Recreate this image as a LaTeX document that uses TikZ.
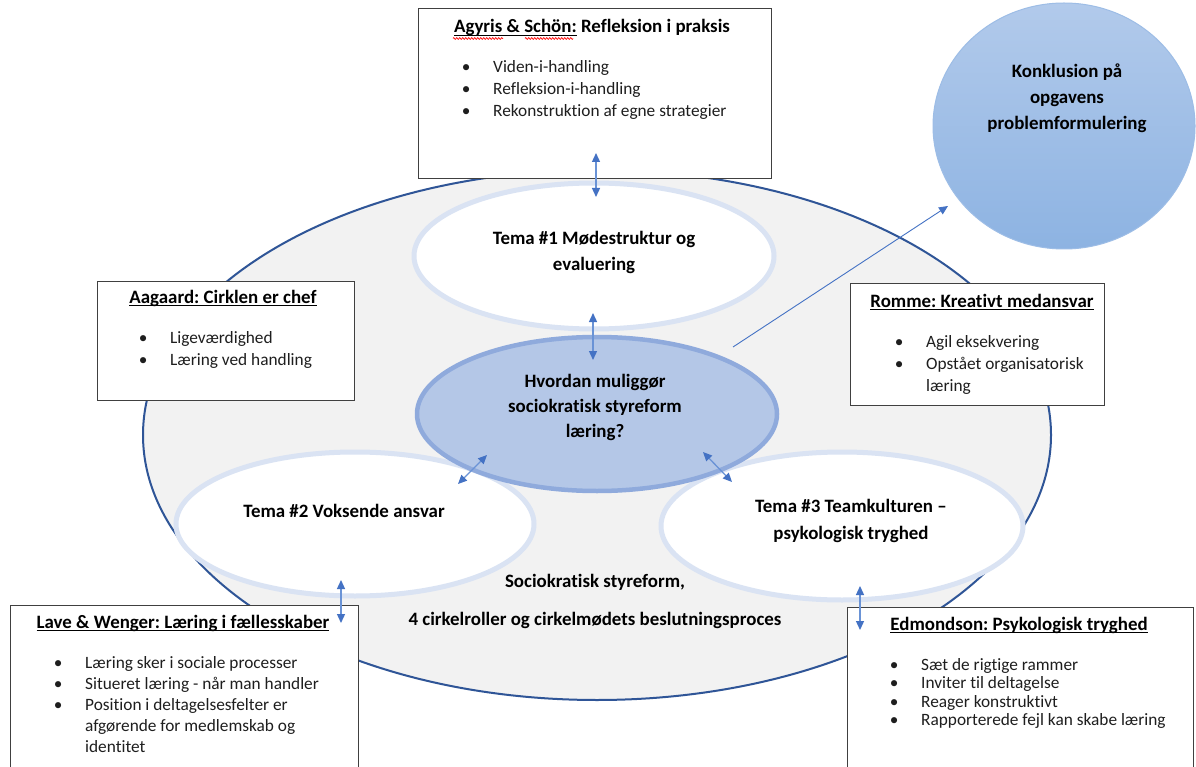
\documentclass[tikz,border=0pt]{standalone}
\usepackage{fontspec}
\setmainfont{Carlito}[Ligatures=NoCommon]
\usetikzlibrary{arrows.meta,decorations.pathmorphing,shapes.geometric}
\frenchspacing
\definecolor{bigb}{HTML}{2F5597}
\definecolor{biggray}{HTML}{F2F2F2}
\definecolor{temab}{HTML}{DAE3F3}
\definecolor{cfill}{HTML}{B4C7E7}
\definecolor{cborder}{HTML}{8FAADC}
\definecolor{arr}{HTML}{4472C4}
\definecolor{arrl}{HTML}{6A93D6}
\definecolor{boxc}{HTML}{404040}
\definecolor{ktop}{HTML}{B2CAEB}
\definecolor{kbot}{HTML}{8DB3E2}
\definecolor{kbord}{HTML}{9DBDE6}
\definecolor{txtc}{HTML}{1E1E1E}
\newcommand\bodyf{\fontsize{17.3}{22}\selectfont}
\newcommand\bodyt{\fontsize{17.3}{18.6}\selectfont}
\newcommand\boldf{\fontsize{18.9}{25}\selectfont\bfseries}
\newcommand\bul{\makebox[0pt]{\textbullet}\hspace*{27pt}}
\newcommand\ind{\hspace*{27pt}}
\newcommand\ulx[1]{\setbox0\hbox{#1}\rlap{\rule[-3.2pt]{\wd0}{1.1pt}}\box0\relax}
\tikzset{
  boxn/.style={draw=boxc, line width=1.2pt, fill=white, rectangle, inner sep=0pt, anchor=north west},
  temae/.style={ellipse, draw=temab, line width=5pt, fill=white, inner sep=0pt},
  lst/.style={inner sep=0pt, anchor=base west, text=txtc, font=\bodyf},
  ttl/.style={inner sep=0pt, anchor=base, text=black, font=\boldf},
  ctr/.style={inner sep=0pt, anchor=base, text=black, font=\boldf},
  dbl/.style={draw=arrl, line width=1.3pt, {Triangle[length=9pt,width=8pt,color=arr]}-{Triangle[length=9pt,width=8pt,color=arr]}},
  sgl/.style={draw=arr, line width=0.9pt, -{Triangle[length=9pt,width=8pt]}},
  squig/.style={draw=red, line width=0.7pt, decorate, decoration={zigzag, segment length=3pt, amplitude=0.9pt}}
}
\begin{document}
\begin{tikzpicture}[x=1pt,y=-1pt]
\useasboundingbox[fill=white] (0,0) rectangle (1196,767);
% big ellipse
\node[ellipse, draw=bigb, fill=biggray, line width=2pt, inner sep=0pt, minimum width=908pt, minimum height=530pt] (main) at (597,435) {};
% theme ellipses
\node[temae, minimum width=360pt, minimum height=146pt] (t1) at (594,256) {};
\node[temae, minimum width=358pt, minimum height=144pt] (t2) at (355,524) {};
\node[temae, minimum width=362pt, minimum height=148pt] (t3) at (842,526) {};
% centre ellipse
\node[ellipse, draw=cborder, fill=cfill, line width=4.5pt, inner sep=0pt, minimum width=360pt, minimum height=154pt] (ctr) at (597,414) {};
% conclusion circle
\node[ellipse, draw=kbord, line width=1pt, top color=ktop, bottom color=kbot, inner sep=0pt, minimum width=262pt, minimum height=246pt] (konk) at (1064,126) {};
% boxes
\node[boxn, minimum width=353pt, minimum height=170pt] (agy) at (418,8) {};
\node[boxn, minimum width=257pt, minimum height=119pt] (aag) at (97,281) {};
\node[boxn, minimum width=254pt, minimum height=122pt] (rom) at (850,283) {};
\node[boxn, minimum width=348pt, minimum height=180pt] (lav) at (10,605) {};
\node[boxn, minimum width=346pt, minimum height=180pt] (edm) at (847,607) {};
% connector end points
\coordinate (a1s) at (596,153); \coordinate (a1e) at (596,197);
\coordinate (a2s) at (593,313); \coordinate (a2e) at (593,360);
\coordinate (a3s) at (487,455); \coordinate (a3e) at (458,484);
\coordinate (a4s) at (703,452); \coordinate (a4e) at (732,482);
\coordinate (a5s) at (341,580); \coordinate (a5e) at (341,623);
\coordinate (a6s) at (860,586); \coordinate (a6e) at (860,630);
\coordinate (a7s) at (733,347); \coordinate (a7e) at (948,206);
\draw[dbl] (a1s) -- (a1e);
\draw[dbl] (a2s) -- (a2e);
\draw[dbl] (a3s) -- (a3e);
\draw[dbl] (a4s) -- (a4e);
\draw[dbl] (a5s) -- (a5e);
\draw[dbl] (a6s) -- (a6e);
\draw[sgl] (a7s) -- (a7e);
% ellipse texts
\node[ctr, font=\fontsize{18.9}{25}\selectfont\bfseries] (t1txt) at (594,245) {\begin{tabular}[t]{@{}c@{}}Tema \#1 Mødestruktur og\\evaluering\end{tabular}};
\node[ctr] (t2txt) at (344,517) {Tema \#2 Voksende ansvar};
\node[ctr, font=\fontsize{18.9}{27}\selectfont\bfseries] (t3txt) at (851,512) {\begin{tabular}[t]{@{}c@{}}Tema \#3 Teamkulturen –\\psykologisk tryghed\end{tabular}};
\node[ctr] (ctxt) at (595,387) {\begin{tabular}[t]{@{}c@{}}Hvordan muliggør\\sociokratisk styreform\\læring?\end{tabular}};
\node[ctr, font=\fontsize{18.9}{26}\selectfont\bfseries] (ktxt) at (1067,78) {\begin{tabular}[t]{@{}c@{}}Konklusion på\\opgavens\\problemformulering\end{tabular}};
\node[ctr] (s1) at (595,587) {Sociokratisk styreform,};
\node[ctr] (s2) at (595,625) {4 cirkelroller og cirkelmødets beslutningsproces};
% box titles
\node[ttl] (agyt) at (592,33) {\ulx{Agyris \& Schön:} Refleksion i praksis};
\draw[squig] (453,38.5) -- (503,38.5);
\draw[squig] (525,38.5) -- (573,38.5);
\node[ttl] (aagt) at (223,303) {\ulx{Aagaard: Cirklen er chef}};
\node[ttl] (romt) at (982,307) {\ulx{Romme: Kreativt medansvar}};
\node[ttl] (lavt) at (183,628) {\ulx{Lave \& Wenger: Læring i fællesskaber}};
\node[ttl] (edmt) at (1019,630) {\ulx{Edmondson: Psykologisk tryghed}};
% box lists
\node[lst] (agyl) at (466,73) {\begin{tabular}[t]{@{}l@{}}\bul Viden-i-handling\\\bul Refleksion-i-handling\\\bul Rekonstruktion af egne strategier\end{tabular}};
\node[lst] (aagl) at (143,343) {\begin{tabular}[t]{@{}l@{}}\bul Ligeværdighed\\\bul Læring ved handling\end{tabular}};
\node[lst] (roml) at (899,347) {\begin{tabular}[t]{@{}l@{}}\bul Agil eksekvering\\\bul Opstået organisatorisk\\\ind læring\end{tabular}};
\node[lst, font=\fontsize{17.3}{21}\selectfont] (lavl) at (58,668) {\begin{tabular}[t]{@{}l@{}}\bul Læring sker i sociale processer\\\bul Situeret læring - når man handler\\\bul Position i deltagelsesfelter er\\\ind afgørende for medlemskab og\\\ind identitet\end{tabular}};
\node[lst, font=\bodyt] (edml) at (894,670) {\begin{tabular}[t]{@{}l@{}}\bul Sæt de rigtige rammer\\\bul Inviter til deltagelse\\\bul Reager konstruktivt\\\bul Rapporterede fejl kan skabe læring\end{tabular}};
\end{tikzpicture}
\end{document}
